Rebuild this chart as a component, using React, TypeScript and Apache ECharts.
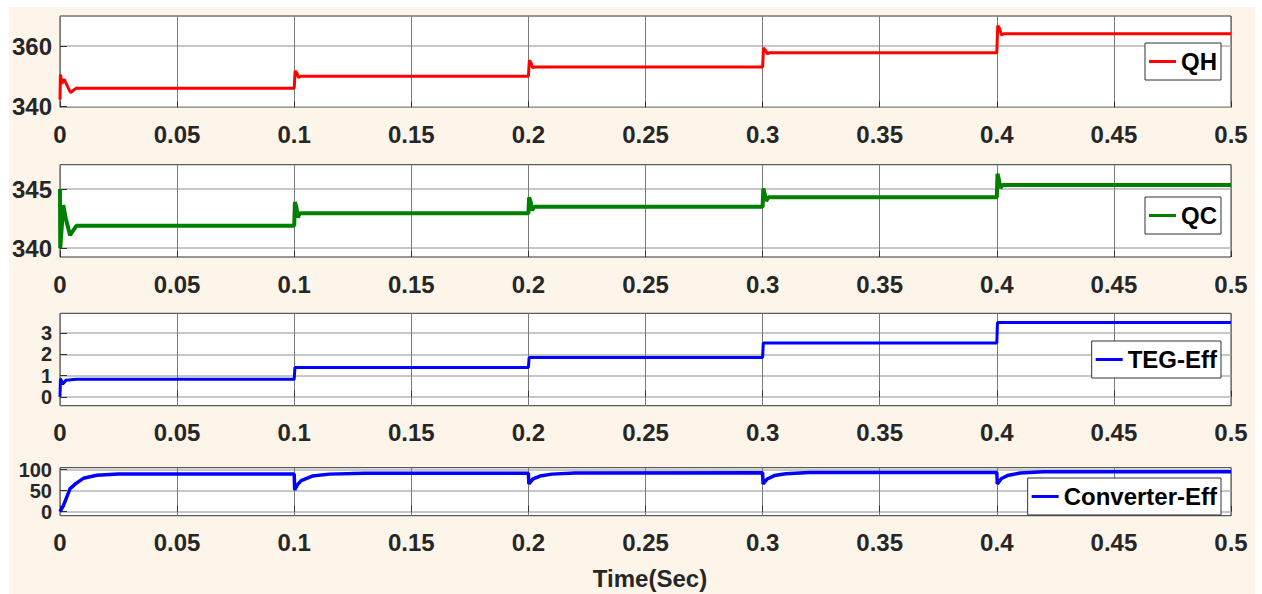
import React, { useEffect, useRef } from "react";
import * as echarts from "echarts";

// ---- data ----
const timeTicks = [0, 0.05, 0.1, 0.15, 0.2, 0.25, 0.3, 0.35, 0.4, 0.45, 0.5];

const qhPoints: [number, number][] = [
  [0, 342.3], [0.0002, 350.6], [0.0008, 347.6], [0.0018, 349.0], [0.0045, 344.6], [0.0068, 346.0],
  [0.1, 346.0], [0.1004, 351.8], [0.1012, 351.0], [0.1018, 349.6], [0.1028, 350.0],
  [0.2, 350.0], [0.2004, 355.3], [0.2012, 354.3], [0.2018, 352.8], [0.2028, 353.1],
  [0.3, 353.1], [0.3004, 359.4], [0.3012, 358.6], [0.302, 357.5], [0.303, 357.8],
  [0.4, 357.8], [0.4004, 366.8], [0.4012, 365.8], [0.402, 363.7], [0.403, 364.1],
  [0.5, 364.1],
];

const qcPoints: [number, number][] = [
  [0, 345.0], [0.0001, 340.0], [0.0014, 343.65], [0.0025, 342.5], [0.0043, 341.1], [0.007, 341.9],
  [0.1, 341.9], [0.1003, 343.9], [0.101, 343.4], [0.1015, 342.6], [0.1025, 342.95],
  [0.2, 342.95], [0.2003, 344.3], [0.201, 343.9], [0.2015, 343.2], [0.2025, 343.5],
  [0.3, 343.5], [0.3003, 345.05], [0.301, 344.5], [0.3015, 344.0], [0.3025, 344.3],
  [0.4, 344.3], [0.4003, 346.3], [0.401, 345.7], [0.4015, 345.1], [0.4025, 345.35],
  [0.5, 345.35],
];

const tegPoints: [number, number][] = [
  [0, 0], [0.0002, 0.85], [0.0012, 0.6], [0.0025, 0.78], [0.007, 0.82],
  [0.1, 0.82], [0.1003, 1.38],
  [0.2, 1.38], [0.2003, 1.85],
  [0.3, 1.85], [0.3003, 2.53],
  [0.4, 2.53], [0.4003, 3.5],
  [0.5, 3.5],
];

const convPoints: [number, number][] = [
  [0, 0], [0.0015, 15], [0.0043, 55], [0.007, 68], [0.01, 79.5], [0.0157, 87], [0.025, 89.8],
  [0.1, 89.8], [0.1002, 51.7], [0.1015, 65], [0.103, 74], [0.1077, 85], [0.115, 89.5], [0.13, 91.4],
  [0.2, 91.4], [0.2002, 66], [0.202, 78], [0.205, 85], [0.21, 89.5], [0.22, 92],
  [0.3, 92.5], [0.3002, 66], [0.302, 78], [0.305, 86], [0.31, 90.5], [0.32, 93.5],
  [0.4, 93.5], [0.4002, 66], [0.402, 79], [0.405, 87], [0.41, 92], [0.42, 95],
  [0.5, 95],
];

const seriesNames = ["QH", "QC", "TEG-Eff", "Converter-Eff"];
const seriesColors = ["#ff0000", "#008000", "#0000ff", "#0000ff"];
const yTicks = [[340, 360], [340, 345], [0, 1, 2, 3], [0, 50, 100]];
const yRanges = [[339.7, 370], [339.26, 347.06], [-0.42, 3.93], [-9.5, 104.8]];
const xLabel = "Time(Sec)";

const FONT = "'Liberation Sans', Arial, Helvetica, sans-serif";

export default function App() {
  const ref = useRef<HTMLDivElement>(null);
  useEffect(() => {
    if (!ref.current) return;
    const chart = echarts.init(ref.current, undefined, { renderer: "svg" });
    const gridTops = [16, 164.7, 313.3, 467.7];
    const gridHeights = [91.3, 92.3, 92.4, 48];
    const legendTops = [43, 197, 341, 478];
    const lineWidths = [3, 4, 3, 3.5];
    const yFontSizes = [24, 24, 20, 20];
    const allData = [qhPoints, qcPoints, tegPoints, convPoints];

    const grids = gridTops.map((t, i) => ({
      left: 60,
      right: 31,
      top: t,
      height: gridHeights[i],
      show: true,
      backgroundColor: "#ffffff",
      borderColor: "#333333",
      borderWidth: 1,
    }));

    const xAxes = gridTops.map((_, i) => ({
      type: "value",
      gridIndex: i,
      min: 0,
      max: 0.5,
      interval: 0.05,
      axisLine: { show: false },
      axisTick: { show: true, inside: true, length: 6, lineStyle: { color: "#333" } },
      splitLine: { show: true, lineStyle: { color: "#7a7a7a", width: 1 } },
      axisLabel: {
        margin: 15,
        fontSize: 24,
        fontWeight: "bold",
        fontFamily: FONT,
        color: "#262626",
        hideOverlap: false,
        formatter: (v: number) => String(Number(v.toFixed(2))),
      },
    }));

    const yAxes = gridTops.map((_, i) => ({
      type: "value",
      gridIndex: i,
      min: yRanges[i][0],
      max: yRanges[i][1],
      axisLine: { show: false },
      axisTick: { show: true, inside: true, length: 7, customValues: yTicks[i], lineStyle: { color: "#333" } },
      splitLine: { show: true, lineStyle: { color: "#b4b4b4", width: 1.5 } },
      axisLabel: {
        customValues: yTicks[i],
        hideOverlap: false,
        showMinLabel: true,
        showMaxLabel: true,
        margin: 8,
        fontSize: yFontSizes[i],
        lineHeight: yFontSizes[i] - 2,
        fontWeight: "bold",
        fontFamily: FONT,
        color: "#262626",
      },
    }));

    const legends = seriesNames.map((n, i) => ({
      data: [n],
      right: 41,
      top: legendTops[i],
      orient: "horizontal",
      icon: "rect",
      itemWidth: 27,
      itemHeight: 3,
      padding: [6, 4, 6, 4],
      backgroundColor: "#ffffff",
      borderColor: "#333333",
      borderWidth: 1,
      borderRadius: 0,
      textStyle: { fontSize: 24, fontWeight: "bold", fontFamily: FONT, color: "#000", lineHeight: 25 },
    }));

    const series = seriesNames.map((n, i) => ({
      name: n,
      type: "line",
      xAxisIndex: i,
      yAxisIndex: i,
      data: allData[i],
      showSymbol: false,
      symbol: "none",
      lineStyle: { color: seriesColors[i], width: lineWidths[i] },
      itemStyle: { color: seriesColors[i] },
    }));

    chart.setOption({
      animation: false,
      backgroundColor: "transparent",
      grid: grids,
      xAxis: xAxes,
      yAxis: yAxes,
      legend: legends,
      series,
      graphic: [
        {
          type: "text",
          x: 650,
          y: 578,
          style: {
            text: xLabel,
            fontSize: 24,
            fontWeight: "bold",
            fontFamily: FONT,
            fill: "#262626",
            textAlign: "center",
            textVerticalAlign: "middle",
          },
        },
      ],
    });
    return () => chart.dispose();
  }, []);

  return (
    <div style={{ position: "fixed", left: 0, top: 0, width: 1262, height: 594, background: "#ffffff" }}>
      <div style={{ position: "absolute", left: 9, top: 7, width: 1246, height: 587, background: "#fdf4ea" }} />
      <div ref={ref} style={{ position: "absolute", left: 0, top: 0, width: 1262, height: 594 }} />
    </div>
  );
}
